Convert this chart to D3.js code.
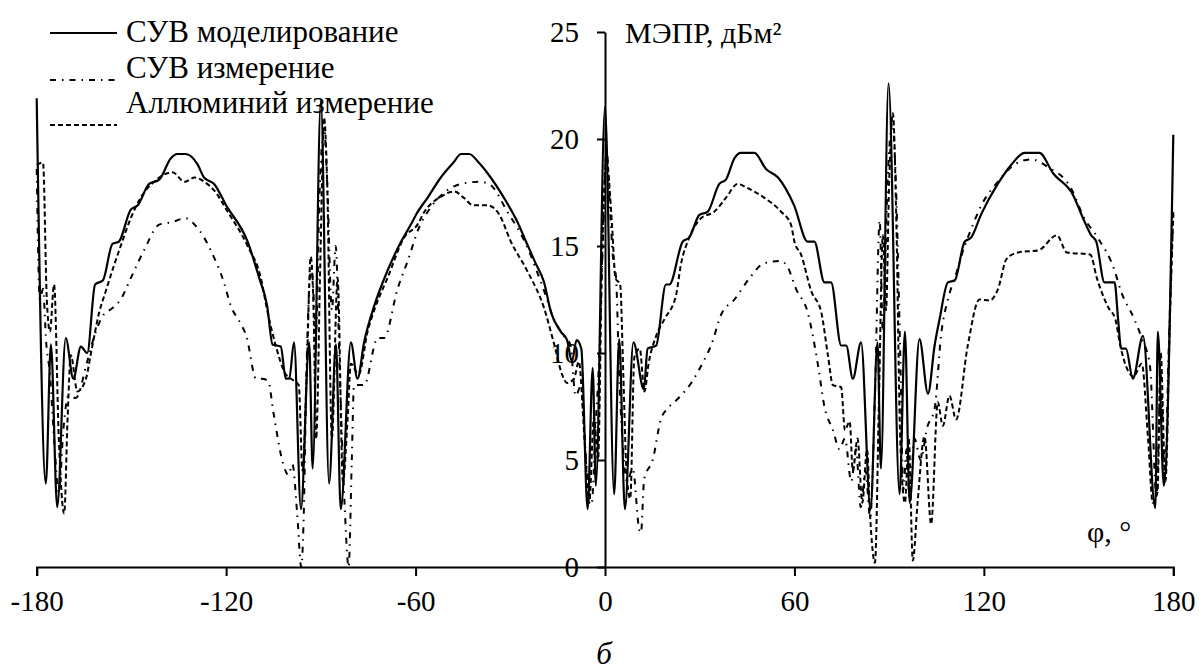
<!DOCTYPE html>
<html>
<head>
<meta charset="utf-8">
<script src="https://cdn.jsdelivr.net/npm/d3@7"></script>
<style>
  body { margin: 0; background: #ffffff; }
  text { font-family: "Liberation Serif", "Times New Roman", serif; fill: #000; }
</style>
</head>
<body>
<div id="chart"></div>
<script>
// Angle (deg) and MEPR (dBm2)
const modelSeries = [
  [-180, 21.9], [-177.1, 3.9], [-175.5, 10.4], [-173.5, 2.8], [-170.8, 10.7], [-168.4, 8.8],
  [-166, 10.3], [-164, 10.0], [-161.5, 13.2], [-159, 13.4], [-156, 15.1], [-154, 15.2],
  [-150.2, 16.7], [-148, 16.9], [-144.4, 17.9], [-141.2, 18.1], [-137.5, 19.1], [-135.5, 19.3],
  [-132.8, 19.3], [-129, 18.8], [-127, 18.2], [-123.8, 17.9], [-120, 16.9], [-113.2, 15.2],
  [-109.5, 13.5], [-107, 12.2], [-105.3, 10.4], [-102.7, 10.3], [-101.1, 8.8], [-100, 8.8],
  [-98.5, 10.5], [-96.3, 2.7], [-93.7, 10.5], [-92.6, 4.6], [-90, 21.8], [-87.4, 3.9],
  [-85.2, 10.4], [-83.7, 2.7], [-80.5, 10.5], [-78.4, 8.8], [-76.3, 10.5], [-73.1, 12.2],
  [-70.4, 13.3], [-64.6, 15.2], [-61.5, 16.0], [-59.9, 16.45], [-56, 17.3], [-52, 18.2],
  [-48, 18.9], [-45.6, 19.3], [-43, 19.3], [-40, 18.9], [-37.2, 18.4], [-32, 17.25],
  [-28, 16.2], [-25, 15.2], [-22, 14.2], [-19.3, 13.3], [-17.1, 11.9], [-14, 11.0],
  [-12, 10.6], [-10.5, 9.6], [-9, 10.6], [-7.5, 10.2], [-5.5, 2.7], [-3.9, 9.3], [-2.9, 3.8],
  [0, 21.5], [2.9, 3.4], [4.5, 10.65], [6.3, 2.7], [9, 10.5], [12.3, 8.3], [13.5, 10.2],
  [16.2, 10.35], [19.3, 13.2], [20.4, 13.2], [24.6, 15.2], [26.7, 15.4], [29.9, 16.45],
  [32.5, 16.6], [36.2, 17.9], [38.3, 18.1], [41, 19.1], [43, 19.35], [47.3, 19.35], [51, 18.6],
  [54.8, 18.2], [59.9, 16.9], [64.2, 15.2], [66.3, 15.2], [69.5, 13.3], [71.6, 13.3],
  [74.8, 10.35], [76.4, 10.35], [78.5, 8.8], [81.1, 10.5], [84.1, 2.7], [86.3, 10.5],
  [87.4, 4.6], [89.8, 22.6], [93.3, 3.4], [95, 11.0], [96.5, 3.0], [99.6, 10.65], [102.3, 8.1],
  [104.4, 10.35], [106, 11.6], [108.6, 13.3], [110.8, 13.4], [113.9, 15.2], [116, 15.4],
  [119.2, 16.5], [124.4, 17.9], [128.7, 18.8], [132.9, 19.35], [137.6, 19.35], [141.9, 18.4],
  [148.2, 17.4], [151.4, 16.3], [154, 15.5], [155.6, 15.2], [158.2, 13.3], [161.4, 13.3],
  [162.5, 11.6], [163.5, 10.2], [165, 10.2], [167.2, 8.8], [170.4, 10.8], [174.3, 2.75],
  [175.1, 11.0], [177, 3.8], [180, 20.2]
];

const suvMeasured = [
  [-180, 18.6], [-179, 12.5], [-178, 13.0], [-177, 10.5], [-175.8, 9.0], [-174.5, 6.0],
  [-173, 3.5], [-171.5, 6.5], [-170, 8.0], [-167.6, 7.9], [-164, 9.6], [-161.5, 10.9],
  [-159.2, 11.7], [-156, 12.1], [-153.4, 12.5], [-150.2, 13.5], [-146, 14.8], [-141.2, 16.0],
  [-137.5, 16.1], [-132.8, 16.3], [-130, 16.0], [-127, 15.4], [-124.9, 14.8], [-120.7, 13.3],
  [-118.5, 12.2], [-115.5, 11.4], [-113.6, 10.8], [-110.5, 8.8], [-108.8, 8.8], [-106.7, 8.7],
  [-105, 7.2], [-101.9, 4.8], [-100.3, 4.3], [-99, 4.8], [-97.5, 2.5], [-96.2, 0], [-95.5, 2.0],
  [-94.5, 9.5], [-93, 14.0], [-91.5, 11.0], [-90.5, 17.0], [-89, 20.5], [-88, 18.0],
  [-86.5, 12.0], [-85.3, 15.0], [-84, 9.0], [-82.5, 3.0], [-81.2, 0], [-80.2, 5.0],
  [-79.5, 8.5], [-76.3, 8.5], [-72, 10.7], [-70, 10.7], [-65.7, 13.0], [-62.5, 14.3],
  [-58.8, 15.9], [-55.2, 16.8], [-50, 17.6], [-45.6, 17.9], [-39.8, 18.0], [-36.7, 17.9],
  [-30.9, 16.6], [-25.1, 15.1], [-19.3, 12.9], [-16.2, 11.6], [-13, 10.8], [-11, 10.4],
  [-9.3, 8.0], [-7.5, 8.5], [-6, 5.0], [-4.2, 3.0], [-3, 6.5], [-1.8, 10.0], [-0.5, 16.0],
  [0.5, 19.5], [1.5, 17.0], [2.5, 14.5], [3.5, 13.5], [4.5, 9.0], [5.5, 6.0], [7, 4.0],
  [8.8, 4.6], [10.9, 1.7], [11.4, 1.6], [12.4, 4.1], [15.1, 5.0], [17.7, 6.9], [19.8, 7.4],
  [23, 7.85], [27.3, 8.6], [31.5, 9.7], [33.6, 10.35], [36.8, 11.8], [41, 12.5], [45.8, 13.5],
  [50.5, 14.2], [55.8, 14.3], [57.9, 14.0], [60.5, 13.0], [64.2, 11.9], [67.5, 9.4],
  [69.5, 7.5], [72.2, 6.4], [74.3, 5.5], [76, 6.0], [78, 4.0], [79.5, 5.5], [81, 2.8],
  [82.5, 4.5], [84, 2.3], [85.5, 8.0], [87, 16.2], [88, 11.0], [89.5, 18.0], [91, 20.8],
  [92, 18.5], [93.5, 10.0], [94.5, 3.6], [95.5, 5.5], [96.5, 3.1], [98, 6.0], [100, 5.0],
  [102, 6.5], [104.4, 7.4], [106.5, 10.9], [108.6, 12.5], [111, 13.6], [113.9, 15.0],
  [116, 15.8], [119.2, 16.9], [124.4, 18.0], [129.7, 18.8], [135, 19.05], [140.2, 18.7],
  [147.6, 17.7], [151.8, 16.3], [156, 15.4], [161.3, 13.9], [163.4, 12.9], [167.6, 11.6],
  [170, 10.7], [172.6, 9.4], [174.7, 3.3], [176, 9.0], [177.3, 4.0], [178.5, 10.0], [180, 16.6]
];

const aluMeasured = [
  [-180, 18.8], [-178, 18.9], [-176.8, 12.5], [-175.8, 11.0], [-174.5, 13.2], [-173, 6.0],
  [-171.3, 2.5], [-170.2, 7.0], [-169.2, 9.9], [-167.1, 8.2], [-164.4, 8.8], [-162.8, 10.0],
  [-160.2, 11.9], [-158.1, 12.9], [-155.5, 14.1], [-153.4, 15.0], [-150.2, 16.3],
  [-147.1, 17.25], [-142.8, 18.0], [-138.6, 18.4], [-137, 18.45], [-133.2, 18.0], [-130, 18.2],
  [-126.9, 18.0], [-123.8, 17.6], [-119.5, 16.6], [-113.2, 15.0], [-109, 13.5], [-107, 12.0],
  [-104.3, 10.35], [-101.1, 9.0], [-99.5, 8.8], [-97, 8.5], [-95.8, 4.5], [-94.5, 9.0],
  [-93.2, 14.5], [-92.3, 12.0], [-91.5, 6.0], [-90.2, 14.0], [-89, 21.0], [-88, 18.0],
  [-86.5, 6.0], [-84.7, 13.5], [-83, 4.0], [-81.5, 7.0], [-80.5, 9.5], [-78, 9.0],
  [-75.2, 11.0], [-72.6, 12.2], [-68.9, 13.5], [-63.6, 15.4], [-59.4, 16.0], [-57.2, 16.6],
  [-52, 17.3], [-47.7, 17.55], [-44.7, 17.25], [-41.8, 16.9], [-37.2, 16.9], [-33.4, 16.45],
  [-29.8, 15.2], [-24.5, 13.8], [-19.3, 12.1], [-16, 10.35], [-13.6, 9.0], [-12, 8.6],
  [-9.8, 8.8], [-8.3, 9.6], [-6.5, 6.0], [-5, 3.0], [-3.5, 7.0], [-2.2, 5.0], [-1, 14.0],
  [0.5, 19.2], [1.3, 18.0], [2.3, 15.8], [3.3, 13.5], [4.8, 13.2], [5.8, 9.0], [6.8, 4.5],
  [8, 3.2], [9.3, 9.8], [11, 10.2], [12.5, 8.2], [13.8, 9.5], [16.2, 10.8], [18.9, 11.6],
  [22.5, 12.7], [24, 14.1], [26.7, 15.4], [30.4, 16.3], [34.6, 16.6], [38.3, 17.25], [42, 17.9],
  [45.2, 17.7], [50.5, 17.25], [55.8, 16.6], [58.9, 16.0], [60, 15.2], [62.1, 14.6],
  [65.3, 12.9], [68.5, 11.9], [70.6, 9.9], [72.2, 8.5], [74.8, 8.4], [76, 6.4], [77.5, 6.8],
  [78.5, 4.5], [80, 6.0], [81.5, 3.0], [83, 5.5], [84, 2.3], [85.5, 0.2], [86.8, 8.0],
  [88, 15.5], [89, 12.0], [90, 18.0], [91.2, 21.2], [92.3, 16.0], [93.5, 6.0], [95, 3.0],
  [96.2, 6.0], [97.5, 0.3], [99, 3.0], [101.2, 6.1], [103.3, 2.0], [105.4, 7.7], [107, 6.6],
  [109.1, 8.0], [111.2, 6.9], [114.9, 10.35], [118.6, 12.5], [121.8, 12.45], [124.5, 13.0],
  [127.2, 14.4], [130.9, 14.7], [137.3, 14.8], [143.1, 15.5], [146.3, 14.7], [153.7, 14.6],
  [155.8, 13.5], [159.5, 12.1], [161.6, 11.6], [163.2, 10.35], [165.9, 9.1], [167.4, 8.9],
  [170, 9.5], [172, 6.0], [173.5, 3.0], [175, 3.5], [176, 10.0], [177.5, 4.0], [179, 12.0],
  [180, 16.5]
];

const xTicks = [-180, -120, -60, 0, 60, 120, 180];
const yTicks = [0, 5, 10, 15, 20, 25];
const legendLabels = ['СУВ моделирование', 'СУВ измерение', 'Аллюминий измерение'];

// Layout
const W = 1199, H = 671;
const svg = d3.select('#chart').append('svg')
  .attr('width', W)
  .attr('height', H);

const x = d3.scaleLinear().domain([-180, 180]).range([36.7, 1173.3]);
const y = d3.scaleLinear().domain([0, 25]).range([567, 32]);

// X axis (plain hyphen for negatives, as in the source)
const xAxis = svg.append('g')
  .attr('transform', `translate(0,${y(0)})`)
  .call(d3.axisBottom(x).tickValues(xTicks).tickSize(9).tickPadding(14).tickFormat(d => String(d)));
xAxis.select('.domain').attr('stroke-width', 2);
xAxis.selectAll('.tick line').attr('stroke-width', 2);
xAxis.selectAll('text').attr('font-size', 29).attr('font-family', 'Liberation Serif');

// Y axis through zero
const yAxis = svg.append('g')
  .attr('transform', `translate(${x(0)},0)`)
  .call(d3.axisLeft(y).tickValues(yTicks).tickSize(8).tickPadding(18).tickSizeOuter(0));
yAxis.select('.domain').attr('stroke-width', 2);
yAxis.selectAll('.tick line').attr('stroke-width', 2);
yAxis.selectAll('text').attr('font-size', 29).attr('font-family', 'Liberation Serif');

// Curves
const line = d3.line()
  .x(d => x(d[0]))
  .y(d => y(d[1]))
  .curve(d3.curveMonotoneX);

svg.append('path')
  .datum(aluMeasured)
  .attr('fill', 'none')
  .attr('stroke', '#000')
  .attr('stroke-width', 2)
  .attr('stroke-dasharray', '5,3')
  .attr('d', line);

svg.append('path')
  .datum(suvMeasured)
  .attr('fill', 'none')
  .attr('stroke', '#000')
  .attr('stroke-width', 2)
  .attr('stroke-dasharray', '6,6,1.5,6')
  .attr('d', line);

svg.append('path')
  .datum(modelSeries)
  .attr('fill', 'none')
  .attr('stroke', '#000')
  .attr('stroke-width', 2.2)
  .attr('d', line);

// Axis labels
svg.append('text')
  .attr('x', 625)
  .attr('y', 43)
  .attr('font-size', 30)
  .text('МЭПР, дБм²');

svg.append('text')
  .attr('x', 1087)
  .attr('y', 542)
  .attr('font-size', 30)
  .text('φ, °');

svg.append('text')
  .attr('x', 604)
  .attr('y', 664)
  .attr('text-anchor', 'middle')
  .attr('font-size', 31)
  .attr('font-style', 'italic')
  .text('б');

// Legend
const legendRows = [
  { lineY: 33, textY: 42, dash: null },
  { lineY: 80, textY: 78, dash: '6,6,1.5,6' },
  { lineY: 125, textY: 113, dash: '5,3' }
];
const legend = svg.append('g').attr('class', 'legend');
legendRows.forEach((r, i) => {
  legend.append('line')
    .attr('x1', 50).attr('x2', 117)
    .attr('y1', r.lineY).attr('y2', r.lineY)
    .attr('stroke', '#000')
    .attr('stroke-width', 2)
    .attr('stroke-dasharray', r.dash);
  legend.append('text')
    .attr('x', 126)
    .attr('y', r.textY)
    .attr('font-size', 31)
    .text(legendLabels[i]);
});
</script>
</body>
</html>
